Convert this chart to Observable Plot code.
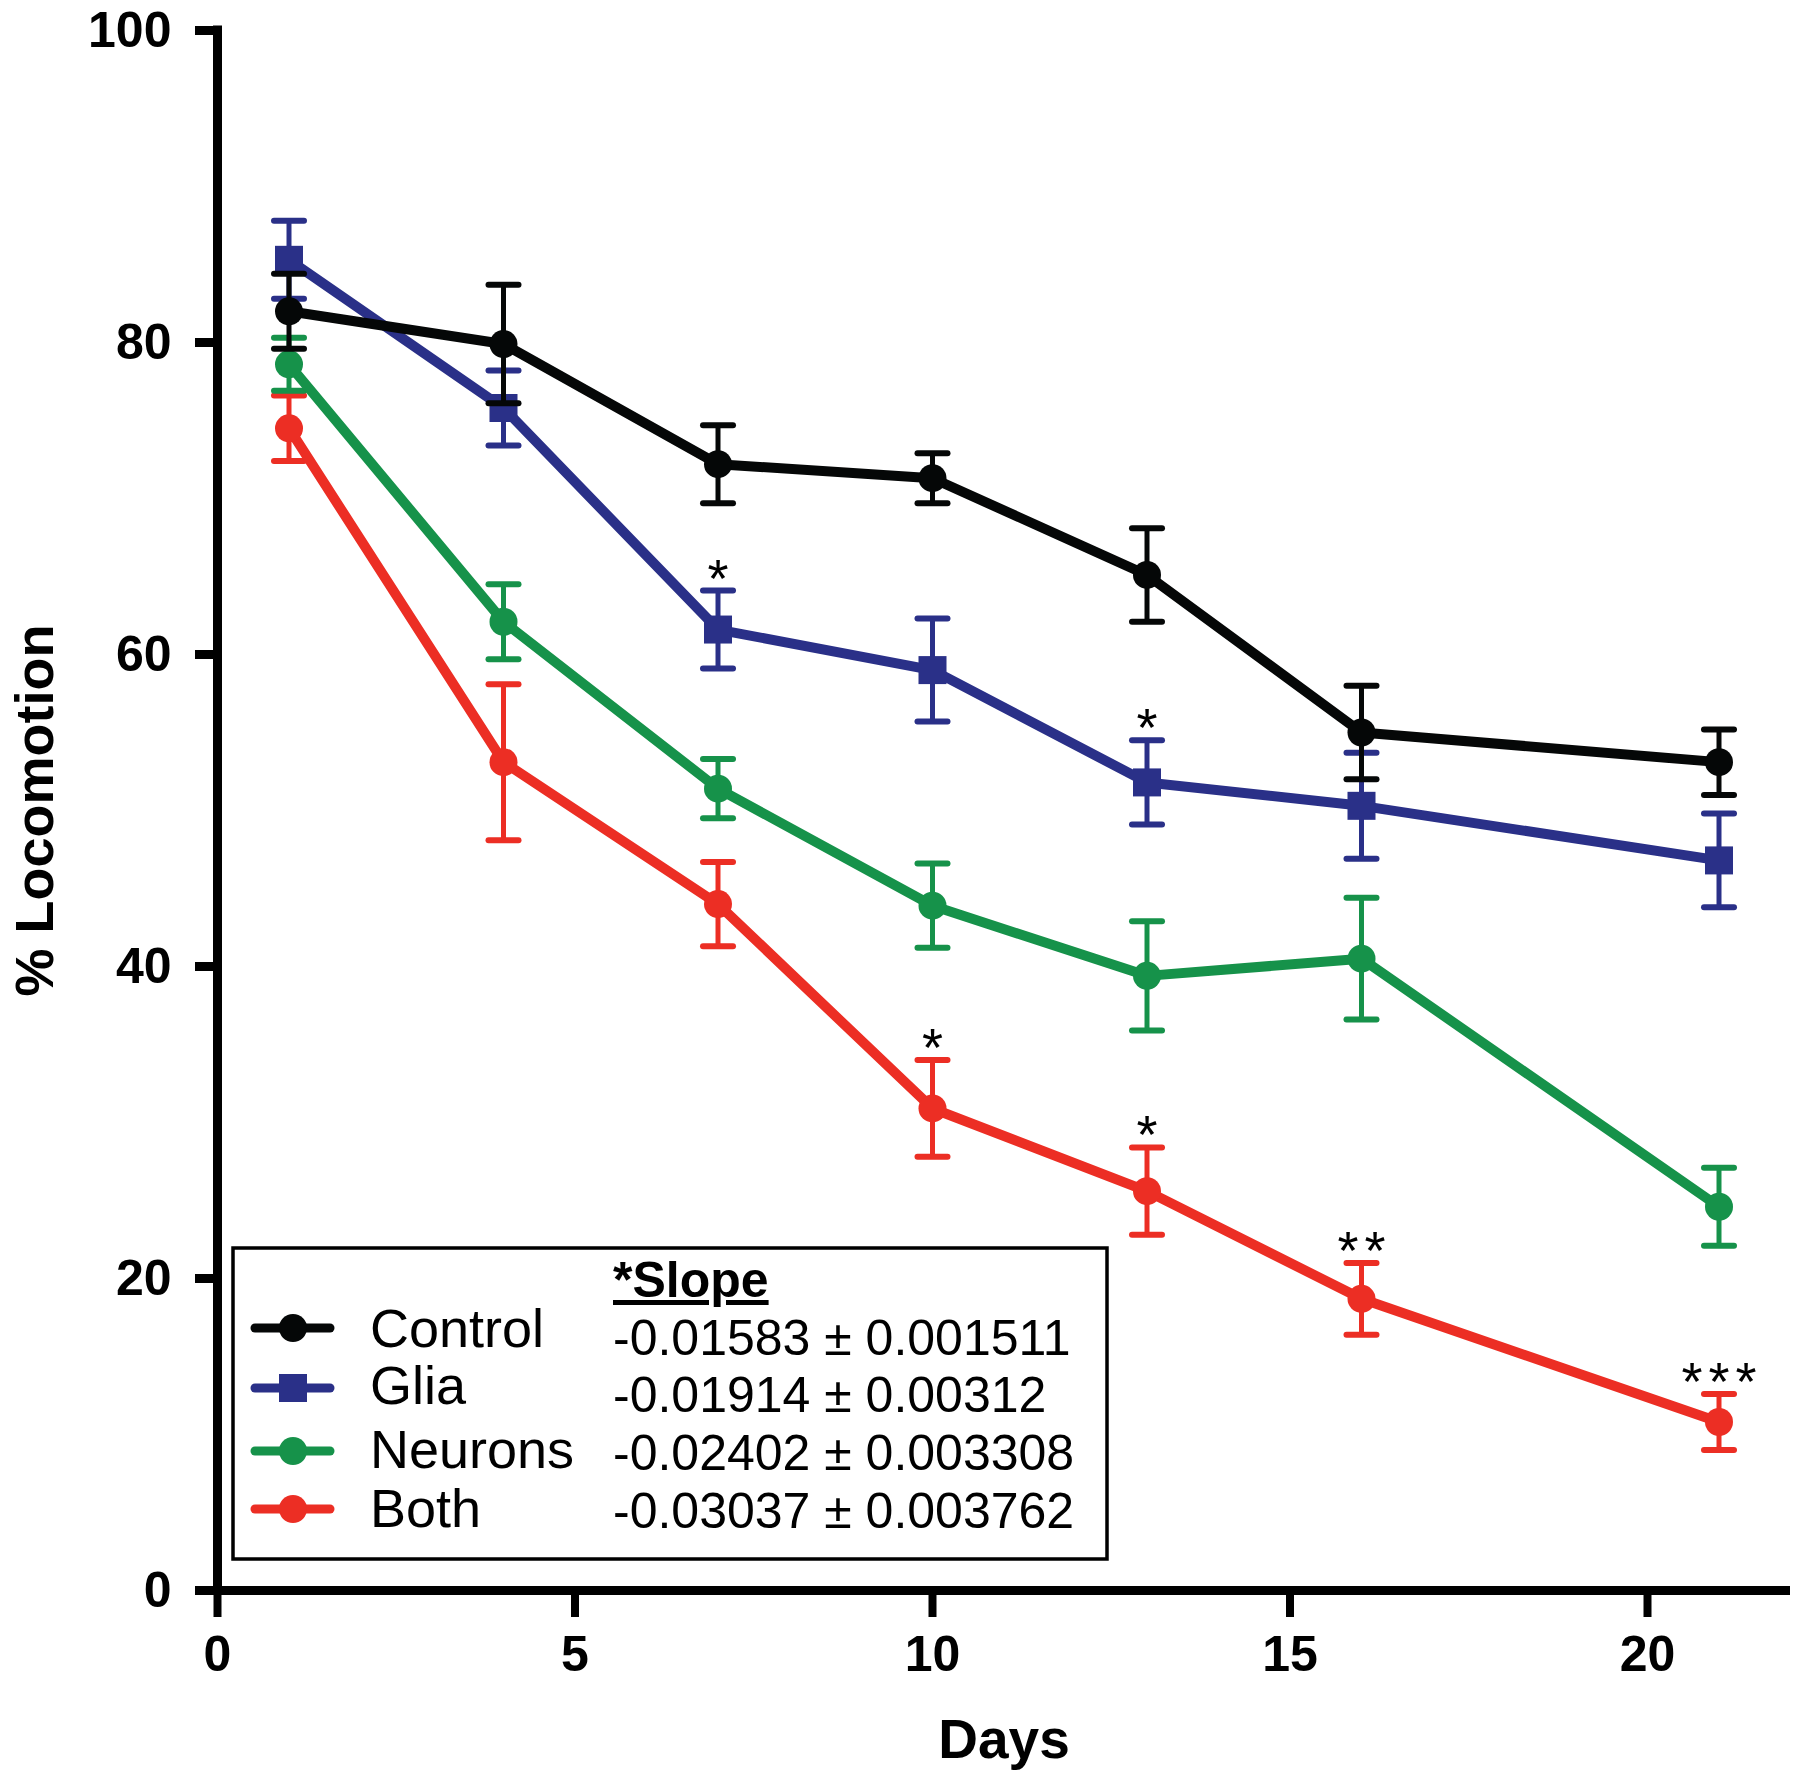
<!DOCTYPE html>
<html><head><meta charset="utf-8">
<script src="https://cdn.jsdelivr.net/npm/d3@7"></script>
<script src="https://cdn.jsdelivr.net/npm/@observablehq/plot@0.6"></script>
<style>
body{margin:0;background:#fff}
#chart{width:1800px;height:1779px}
</style>
</head><body><div id="chart"></div>
<script>
const days = [1, 4, 7, 10, 13, 16, 21];
const groups = ["Control", "Glia", "Neurons", "Both"];
const colors = ["#050707", "#2A3088", "#16924A", "#EC2E24"];
const controlMean = [82.0, 79.9, 72.2, 71.3, 65.1, 55.0, 53.1];
const controlErr  = [2.4, 3.8, 2.5, 1.6, 3.0, 3.0, 2.1];
const gliaMean    = [85.3, 75.8, 61.6, 59.0, 51.8, 50.3, 46.8];
const gliaErr     = [2.5, 2.4, 2.5, 3.3, 2.7, 3.4, 3.0];
const neuronsMean = [78.6, 62.1, 51.4, 43.9, 39.4, 40.5, 24.6];
const neuronsErr  = [1.7, 2.4, 1.9, 2.7, 3.5, 3.9, 2.5];
const bothMean    = [74.5, 53.1, 44.0, 30.9, 25.6, 18.7, 10.8];
const bothErr     = [2.1, 5.0, 2.7, 3.1, 2.8, 2.3, 1.8];
const slopes = ["-0.01583 ± 0.001511", "-0.01914 ± 0.00312", "-0.02402 ± 0.003308", "-0.03037 ± 0.003762"];
const starGroups = ["Glia", "Glia", "Both", "Both", "Both", "Both"];
const starDays   = [7, 13, 10, 13, 16, 21];
const starLabels = ["*", "*", "*", "*", "**", "***"];
const xTicks = [0, 5, 10, 15, 20];
const yTicks = [0, 20, 40, 60, 80, 100];

const means = [controlMean, gliaMean, neuronsMean, bothMean];
const errs = [controlErr, gliaErr, neuronsErr, bothErr];
const rows = [];
groups.forEach((g, i) => days.forEach((d, j) => rows.push({group: g, day: d, mean: means[i][j], err: errs[i][j]})));
const stars = starGroups.map((g, k) => {
  const r = rows.find(r => r.group === g && r.day === starDays[k]);
  return {day: starDays[k], top: r.mean + r.err, label: starLabels[k]};
});

const capSymbol = {draw(ctx) { ctx.moveTo(-15, 0); ctx.lineTo(15, 0); }};
const FONT = "'Liberation Sans', Arial, Helvetica, sans-serif";

const seriesMarks = [];
[3, 2, 1, 0].forEach(i => {
  const g = groups[i], c = colors[i];
  const data = rows.filter(r => r.group === g);
  seriesMarks.push(
    Plot.ruleX(data, {x: "day", y1: d => d.mean - d.err, y2: d => d.mean + d.err, stroke: c, strokeWidth: 5}),
    Plot.dot(data, {x: "day", y: d => d.mean + d.err, symbol: capSymbol, stroke: c, strokeWidth: 6, fill: "none", strokeLinecap: "round"}),
    Plot.dot(data, {x: "day", y: d => d.mean - d.err, symbol: capSymbol, stroke: c, strokeWidth: 6, fill: "none", strokeLinecap: "round"}),
    Plot.line(data, {x: "day", y: "mean", stroke: c, strokeWidth: 10, strokeLinejoin: "round"}),
    Plot.dot(data, {x: "day", y: "mean", fill: c, stroke: "none", symbol: g === "Glia" ? "square" : "circle", r: g === "Glia" ? 15.8 : 14})
  );
});

const plot = Plot.plot({
  width: 1800, height: 1779,
  marginLeft: 217, marginRight: 10, marginTop: 30, marginBottom: 189,
  style: {fontFamily: FONT, background: "#fff", color: "#000"},
  x: {domain: [0, 22]},
  y: {domain: [0, 100]},
  marks: [
    Plot.axisX({ticks: xTicks, tickSize: 27, tickPadding: 18, strokeWidth: 8, fontSize: 50, fontWeight: "bold", label: null}),
    Plot.axisY({ticks: yTicks, tickSize: 22, tickPadding: 24, strokeWidth: 9, fontSize: 50, fontWeight: "bold", label: null}),
    Plot.ruleX([0], {y1: 0, y2: 100, strokeWidth: 9, strokeLinecap: "square"}),
    Plot.ruleY([0], {x1: 0, x2: 22, strokeWidth: 9}),
    ...seriesMarks,
    Plot.text(stars, {x: "day", y: "top", text: "label", lineAnchor: "bottom", dy: 6, fontSize: 54, fill: "#000"}),
    Plot.text(["% Locomotion"], {frameAnchor: "left", textAnchor: "middle", lineAnchor: "middle", rotate: -90, dx: -182, fontSize: 54, fontWeight: "bold"}),
    Plot.text(["Days"], {frameAnchor: "bottom", textAnchor: "middle", lineAnchor: "middle", dy: 150, fontSize: 55, fontWeight: "bold"})
  ]
});
document.getElementById("chart").appendChild(plot);

const svg = d3.select(plot);
// spread the significance asterisks like the reference
svg.selectAll("text").filter(function() { return /^\*+$/.test(this.textContent); })
  .attr("letter-spacing", 6).attr("dx", 3);

// legend box inside the plot area
const lg = svg.append("g").attr("font-family", FONT).attr("text-anchor", "start");
lg.append("rect").attr("x", 233).attr("y", 1248).attr("width", 874).attr("height", 311)
  .attr("fill", "#fff").attr("stroke", "#000").attr("stroke-width", 3.5);
lg.append("text").attr("x", 613).attr("y", 1297).attr("font-size", 50).attr("font-weight", "bold")
  .attr("text-decoration", "underline").text("*Slope");
const rowCY = [1328, 1388, 1451, 1509];
const labelBase = [1347, 1404, 1468, 1527];
const slopeBase = [1355, 1412, 1470, 1528];
groups.forEach((g, i) => {
  lg.append("line").attr("x1", 255).attr("x2", 330).attr("y1", rowCY[i]).attr("y2", rowCY[i])
    .attr("stroke", colors[i]).attr("stroke-width", 9).attr("stroke-linecap", "round");
  if (g === "Glia") {
    lg.append("rect").attr("x", 293 - 14).attr("y", rowCY[i] - 14).attr("width", 28).attr("height", 28).attr("fill", colors[i]);
  } else {
    lg.append("circle").attr("cx", 293).attr("cy", rowCY[i]).attr("r", 14).attr("fill", colors[i]);
  }
  lg.append("text").attr("x", 370).attr("y", labelBase[i]).attr("font-size", 54).text(g);
  lg.append("text").attr("x", 613).attr("y", slopeBase[i]).attr("font-size", 50).text(slopes[i]);
});
</script>
</body></html>
